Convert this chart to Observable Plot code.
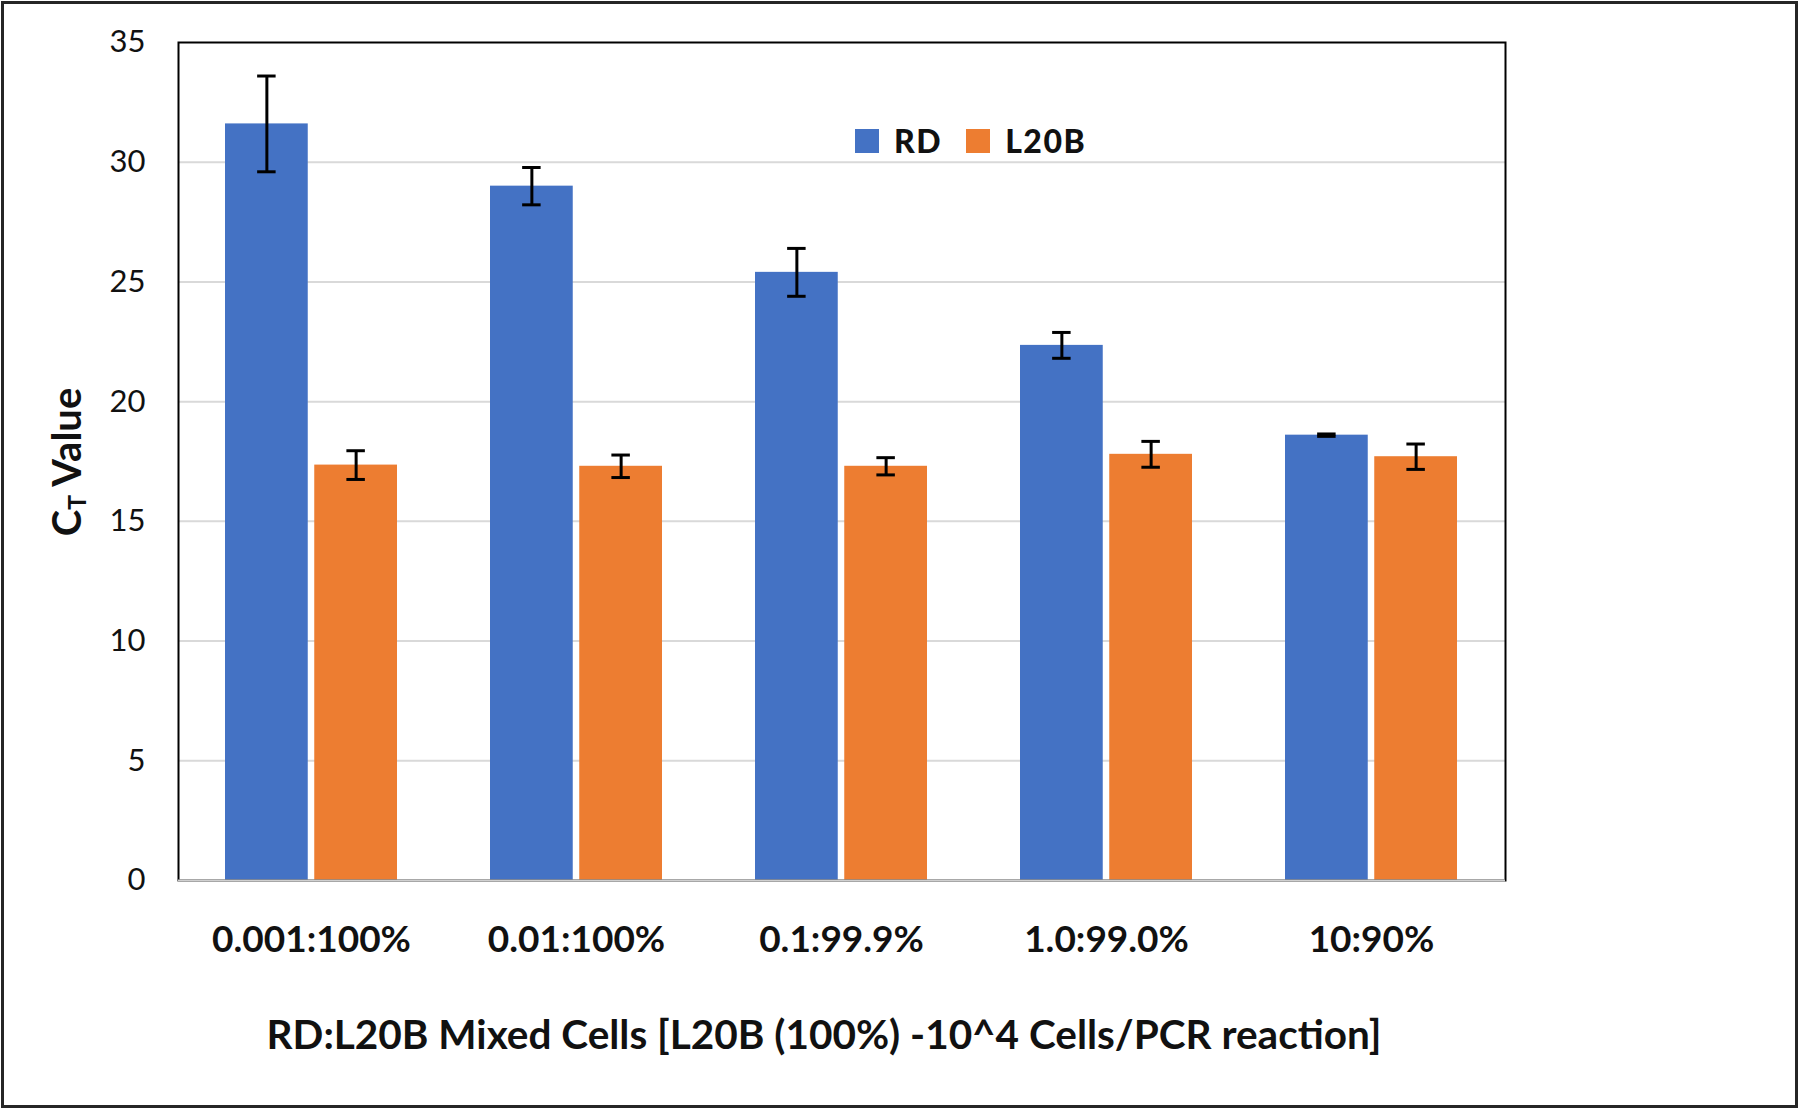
<!DOCTYPE html>
<html>
<head>
<meta charset="utf-8">
<script src="https://cdn.jsdelivr.net/npm/d3@7"></script>
<script src="https://cdn.jsdelivr.net/npm/@observablehq/plot@0.6"></script>
<style>
  html, body { margin: 0; padding: 0; background: #fff; }
  #wrap { position: relative; width: 1800px; height: 1113px; overflow: hidden; font-family: Lato, "Open Sans", sans-serif; }
  #border { position: absolute; left: 1px; top: 1px; width: 1797px; height: 1107px; box-sizing: border-box; border: 3px solid #262626; pointer-events: none; }
  .ov { position: absolute; white-space: nowrap; color: #111; font-weight: bold; line-height: 1; }
  #legend { position: absolute; left: 855px; top: 125px; display: flex; align-items: center; font-weight: 900; font-size: 32px; letter-spacing: 1.5px; color: #111; line-height: 1; }
  .sw { width: 24px; height: 24px; display: inline-block; }
</style>
</head>
<body>
<div id="wrap">
  <div id="chart"></div>
  <div id="legend"></div>
  <div id="ylabel" class="ov"></div>
  <div id="xlabel" class="ov"></div>
  <div id="border"></div>
</div>
<script>
// ---- data ----
const categories = ["0.001:100%", "0.01:100%", "0.1:99.9%", "1.0:99.0%", "10:90%"];
const seriesNames = ["RD", "L20B"];
const rdValues = [31.6, 29.0, 25.4, 22.35, 18.6];
const rdErrors = [2.0, 0.78, 1.0, 0.54, 0.05];
const l20bValues = [17.35, 17.3, 17.3, 17.8, 17.7];
const l20bErrors = [0.6, 0.47, 0.36, 0.54, 0.53];
const yTicks = [0, 5, 10, 15, 20, 25, 30, 35];
const gridTicks = [5, 10, 15, 20, 25, 30];
const seriesColors = ["#4472C4", "#ED7D31"];
const yLabelMain = "C";
const yLabelSub = "T";
const yLabelRest = " Value";
const xTitle = "RD:L20B Mixed Cells [L20B (100%) -10^4 Cells/PCR reaction]";

// ---- layout ----
const W = 1800, H = 1113;
const mL = 178, mR = 295, mT = 42, mB = 233;
const padInner = 0.35, padOuter = 0.175;
const plotW = W - mL - mR;
const step = plotW / (categories.length - padInner + 2 * padOuter);
const bw = step * (1 - padInner);
const gap = 6;
const barW = (bw - gap) / 2;
const capW = 19;
const capInsetNear = barW / 2 - capW / 2;
const capInsetFar = bw - (barW / 2 + capW / 2);
const centerOffset = gap / 2 + barW / 2;

const rd = categories.map((c, i) => ({category: c, series: seriesNames[0], value: rdValues[i], error: rdErrors[i]}));
const l20b = categories.map((c, i) => ({category: c, series: seriesNames[1], value: l20bValues[i], error: l20bErrors[i]}));

const chart = Plot.plot({
  width: W,
  height: H,
  marginLeft: mL, marginRight: mR, marginTop: mT, marginBottom: mB,
  style: {fontFamily: "Lato, 'Open Sans', sans-serif", background: "transparent", color: "#111"},
  x: {domain: categories, paddingInner: padInner, paddingOuter: padOuter, label: null},
  y: {domain: [0, 35], label: null},
  marks: [
    Plot.ruleY(gridTicks, {stroke: "#d9d9d9", strokeWidth: 2}),
    Plot.barY(rd, {x: "category", y: "value", fill: seriesColors[0], insetRight: bw - barW}),
    Plot.barY(l20b, {x: "category", y: "value", fill: seriesColors[1], insetLeft: bw - barW}),
    Plot.ruleX(rd, {x: "category", y1: d => d.value - d.error, y2: d => d.value + d.error, dx: -centerOffset, stroke: "#000", strokeWidth: 3}),
    Plot.ruleX(l20b, {x: "category", y1: d => d.value - d.error, y2: d => d.value + d.error, dx: centerOffset, stroke: "#000", strokeWidth: 3}),
    Plot.tickY(rd, {x: "category", y: d => d.value + d.error, insetLeft: capInsetNear, insetRight: capInsetFar, stroke: "#000", strokeWidth: 3}),
    Plot.tickY(rd, {x: "category", y: d => d.value - d.error, insetLeft: capInsetNear, insetRight: capInsetFar, stroke: "#000", strokeWidth: 3}),
    Plot.tickY(l20b, {x: "category", y: d => d.value + d.error, insetLeft: capInsetFar, insetRight: capInsetNear, stroke: "#000", strokeWidth: 3}),
    Plot.tickY(l20b, {x: "category", y: d => d.value - d.error, insetLeft: capInsetFar, insetRight: capInsetNear, stroke: "#000", strokeWidth: 3}),
    Plot.frame({stroke: "#000", strokeWidth: 2}),
    Plot.ruleY([0], {stroke: "#d0d0d0", strokeWidth: 2}),
    Plot.axisY({ticks: yTicks, tickSize: 0, tickPadding: 33, fontSize: 31, label: null, fill: "#111"}),
    Plot.axisX({tickSize: 0, tickPadding: 45, fontSize: 37, fontWeight: "bold", label: null, fill: "#111"})
  ]
});
document.getElementById("chart").appendChild(chart);

// legend
const legend = document.getElementById("legend");
seriesNames.forEach((name, i) => {
  const sw = document.createElement("span");
  sw.className = "sw";
  sw.style.background = seriesColors[i];
  sw.style.marginRight = "15px";
  const t = document.createElement("span");
  t.textContent = name;
  t.style.marginRight = i === 0 ? "24px" : "0";
  legend.appendChild(sw);
  legend.appendChild(t);
});

// y label
const yl = document.getElementById("ylabel");
yl.innerHTML = yLabelMain + '<span style="font-size:0.62em;vertical-align:-0.18em">' + yLabelSub + '</span>' + yLabelRest;
yl.style.fontSize = "40px";
yl.style.left = "68px";
yl.style.top = "462px";
yl.style.transform = "translate(-50%,-50%) rotate(-90deg)";

// x title
const xl = document.getElementById("xlabel");
xl.textContent = xTitle;
xl.style.fontSize = "40.5px";
xl.style.left = "824px";
xl.style.top = (1035 - 0.527 * 40.5) + "px";
xl.style.transform = "translateX(-50%)";
</script>
</body>
</html>
